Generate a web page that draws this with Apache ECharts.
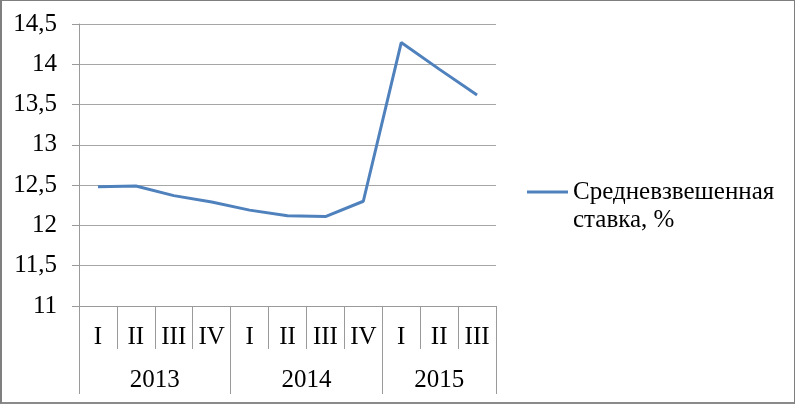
<!DOCTYPE html>
<html><head><meta charset="utf-8">
<script src="https://cdn.jsdelivr.net/npm/echarts@6/dist/echarts.min.js"></script>
<style>
html,body{margin:0;padding:0;background:#fff;}
#c{width:795px;height:404px;box-sizing:border-box;border:1px solid #7f7f7f;border-left:2px solid #7f7f7f;border-bottom:2px solid #8a8a8a;}
</style></head>
<body><div id="c"></div>
<script>
const quarters = ['I','II','III','IV','I','II','III','IV','I','II','III'];
const years = ['2013','2014','2015'];
const yearBounds = [0, 4, 8, 11];
const yearCenters = [2, 6, 9.5];
const seriesName = 'Средневзвешенная ставка, %';
const legendLines = ['Средневзвешенная', 'ставка, %'];
const rates = [12.48, 12.49, 12.37, 12.29, 12.19, 12.12, 12.11, 12.30, 14.27, 13.94, 13.62];
const yTicks = {min: 11, max: 14.5, interval: 0.5};

const FONT = 'Liberation Serif';
const chart = echarts.init(document.getElementById('c'), null, {renderer: 'canvas'});
chart.setOption({
  animation: false,
  grid: {left: 77, right: 298, top: 23, bottom: 96, containLabel: false},
  legend: {
    left: 525, top: 149, padding: 0, orient: 'vertical',
    icon: 'rect', itemWidth: 41, itemHeight: 3,
    data: [seriesName],
    formatter: () => '\n' + legendLines.join('\n'),
    textStyle: {fontFamily: FONT, fontSize: 25, color: '#000', lineHeight: 28}
  },
  xAxis: [{
    type: 'category', data: quarters, boundaryGap: true, position: 'bottom',
    axisLine: {lineStyle: {color: '#9a9a9a', width: 1}},
    axisTick: {show: true, interval: 0, length: 43, lineStyle: {color: '#9a9a9a'}},
    axisLabel: {interval: 0, margin: 19, fontFamily: FONT, fontSize: 25, color: '#000'},
    splitLine: {show: false}
  }, {
    type: 'value', min: 0, max: 11, position: 'bottom',
    axisLine: {show: false},
    axisTick: {show: true, customValues: yearBounds, length: 88, lineStyle: {color: '#9a9a9a'}},
    axisLabel: {show: true, customValues: yearCenters, margin: 62, fontFamily: FONT, fontSize: 25, color: '#000',
      formatter: v => years[yearCenters.indexOf(v)] || ''},
    splitLine: {show: false}
  }],
  yAxis: {
    type: 'value', min: yTicks.min, max: yTicks.max, interval: yTicks.interval,
    axisLine: {show: true, lineStyle: {color: '#9a9a9a'}},
    axisTick: {show: true, length: 7, lineStyle: {color: '#9a9a9a'}},
    axisLabel: {margin: 22, fontFamily: FONT, fontSize: 25, color: '#000',
      formatter: v => String(v).replace('.', ',')},
    splitLine: {lineStyle: {color: '#a6a6a6', width: 1}}
  },
  series: [{
    name: seriesName, type: 'line', data: rates, xAxisIndex: 0,
    symbol: 'none', smooth: false,
    lineStyle: {color: '#4f81bd', width: 3},
    itemStyle: {color: '#4f81bd'}
  }]
});
</script></body></html>
